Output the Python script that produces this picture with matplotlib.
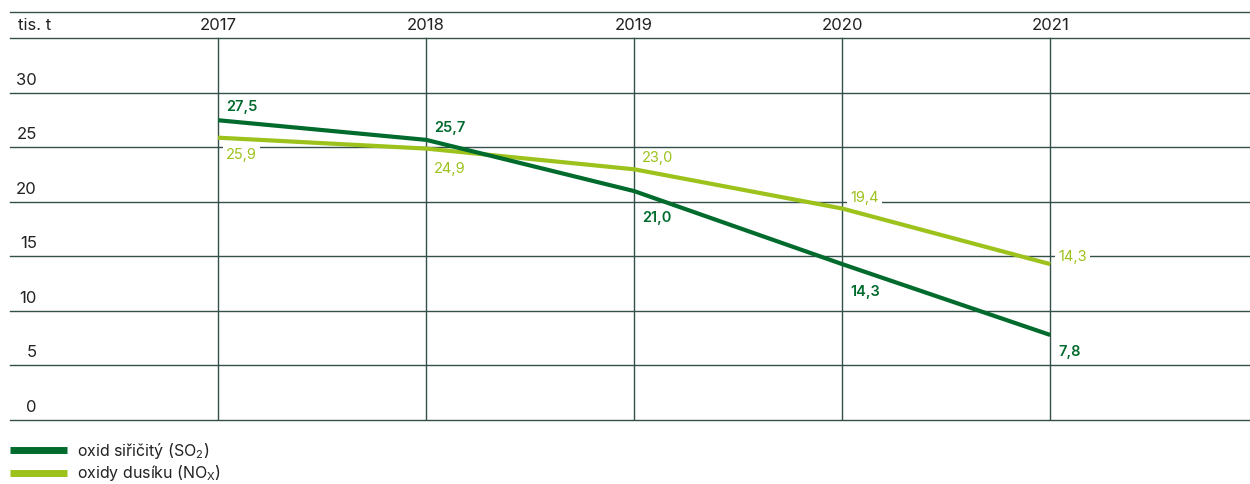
import matplotlib.pyplot as plt

plt.rcParams['font.family'] = ['Inter', 'DejaVu Sans']
plt.rcParams['mathtext.default'] = 'regular'

# data
years = [2017, 2018, 2019, 2020, 2021]
so2 = [27.5, 25.7, 21.0, 14.3, 7.8]
nox = [25.9, 24.9, 23.0, 19.4, 14.3]
so2_txt = ['27,5', '25,7', '21,0', '14,3', '7,8']
nox_txt = ['25,9', '24,9', '23,0', '19,4', '14,3']
yticks = [0, 5, 10, 15, 20, 25, 30]

dark = '#006b2d'
light = '#9cc21b'
grid = '#33504a'
txt = '#222222'

fig = plt.figure(figsize=(12.5, 4.84), dpi=100)
ax = fig.add_axes([10 / 1250, 64 / 484, 1 - 10 / 1250, 408 / 484])
ax.set_xlim(2016, 2021.96)
ax.set_ylim(0, 37.43)
ax.axis('off')

# grid
for v in yticks + [35, 37.43]:
    ax.axhline(v, color=grid, lw=1, zorder=1, clip_on=False)
for yr in years:
    ax.plot([yr, yr], [0, 35], color=grid, lw=1, zorder=1)

# header
ax.annotate('tis. t', (2016, 36.2), xytext=(8, 0), textcoords='offset pixels',
            ha='left', va='center', fontsize=12, color=txt)
for yr in years:
    ax.text(yr, 36.2, str(yr), ha='center', va='center', fontsize=12, color=txt)

# y labels
for v in yticks:
    ax.annotate(str(v), (2016, v), xytext=(27, 5), textcoords='offset pixels',
                ha='right', va='bottom', fontsize=12, color=txt)

ax.plot(years, so2, color=dark, lw=3, zorder=4, solid_capstyle='butt')
ax.plot(years, nox, color=light, lw=3, zorder=3, solid_capstyle='butt')

so2_off = [13, 12, -27, -28, -17]
nox_off = [-17, -20, 11, 11, 7]
box = dict(facecolor='white', edgecolor='none', pad=2)
for x, v, t, o in zip(years, so2, so2_txt, so2_off):
    ax.annotate(t, (x, v), xytext=(8, o), textcoords='offset pixels', ha='left',
                va='center', fontsize=10.5, color=dark, fontweight='semibold',
                bbox=box, zorder=2)
for x, v, t, o in zip(years, nox, nox_txt, nox_off):
    ax.annotate(t, (x, v), xytext=(8, o), textcoords='offset pixels', ha='left',
                va='center', fontsize=10.5, color=light, bbox=box, zorder=2)

# legend
h1, = ax.plot([], [], color=dark, lw=5, solid_capstyle='butt',
              label='oxid siřičitý (SO$_2$)')
h2, = ax.plot([], [], color=light, lw=5, solid_capstyle='butt',
              label='oxidy dusíku (NO$_X$)')
fig.legend(handles=[h1, h2], loc='upper left', bbox_to_anchor=(10 / 1250, 43 / 484),
           frameon=False, fontsize=11.5, handlelength=3.55, handletextpad=0.65,
           labelspacing=0.15, borderaxespad=0, borderpad=0, labelcolor=txt)

fig.savefig('out.png')
